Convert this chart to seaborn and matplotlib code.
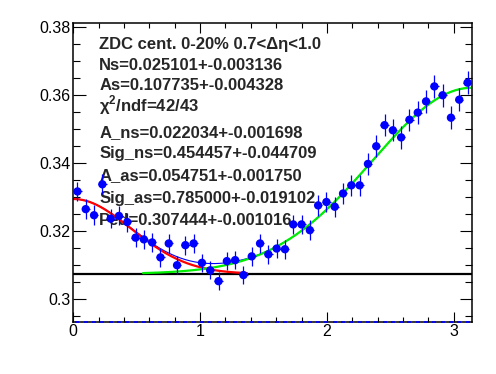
import numpy as np
import pandas as pd
import matplotlib
matplotlib.use("Agg")
import matplotlib.pyplot as plt
from matplotlib.ticker import MultipleLocator, FixedLocator
import seaborn as sns

# ---- data ----
n_bins = 48
yield_vals = [0.3317, 0.3265, 0.3247, 0.3338, 0.3237, 0.3245, 0.3227, 0.3181,
              0.3176, 0.3167, 0.3123, 0.3164, 0.3100, 0.3159, 0.3164, 0.3107,
              0.3085, 0.3053, 0.3112, 0.3115, 0.3071, 0.3126, 0.3164, 0.3132,
              0.3149, 0.3147, 0.3220, 0.3220, 0.3203, 0.3276, 0.3286, 0.3272,
              0.3311, 0.3335, 0.3335, 0.3398, 0.3450, 0.3512, 0.3497, 0.3476,
              0.3528, 0.3549, 0.3582, 0.3626, 0.3600, 0.3534, 0.3587, 0.3637]
yield_errs = [0.0029, 0.0029, 0.0029, 0.0029, 0.0028, 0.0028, 0.0028, 0.0028,
              0.0028, 0.0028, 0.0028, 0.0028, 0.0027, 0.0028, 0.0028, 0.0027,
              0.0027, 0.0027, 0.0027, 0.0027, 0.0027, 0.0028, 0.0028, 0.0028,
              0.0028, 0.0028, 0.0029, 0.0029, 0.0029, 0.0030, 0.0030, 0.0030,
              0.0030, 0.0031, 0.0031, 0.0032, 0.0033, 0.0033, 0.0033, 0.0033,
              0.0033, 0.0033, 0.0034, 0.0034, 0.0034, 0.0033, 0.0034, 0.0034]

# fit parameters (shown in the legend text)
ped = 0.307444
a_ns, sig_ns = 0.022034, 0.454457
a_as, sig_as = 0.054751, 0.785000
ns_range = (0.0, 1.37)
as_range = (0.55, np.pi)

x_ticks = [0, 1, 2, 3]
y_ticks = [0.30, 0.32, 0.34, 0.36, 0.38]
y_tick_labels = ["0.3", "0.32", "0.34", "0.36", "0.38"]

info_lines = [
    "ZDC cent. 0-20% 0.7<\u0394\u03b7<1.0",
    "Ns=0.025101+-0.003136",
    "As=0.107735+-0.004328",
    "\u03c7$^{\\mathbf{2}}$/ndf=42/43",
    "A_ns=0.022034+-0.001698",
    "Sig_ns=0.454457+-0.044709",
    "A_as=0.054751+-0.001750",
    "Sig_as=0.785000+-0.019102",
    "Ped=0.307444+-0.001016",
]
info_baselines_px = [49, 69.5, 90, 111, 137.5, 158.3, 180, 203, 225]

# ---- style ----
sns.set_style("ticks")
plt.rcParams["font.family"] = ["Liberation Sans", "DejaVu Sans"]
plt.rcParams["mathtext.fontset"] = "custom"
plt.rcParams["mathtext.rm"] = "Liberation Sans"
plt.rcParams["mathtext.bf"] = "Liberation Sans:bold"

W, H = 496, 374
fig = plt.figure(figsize=(W / 100, H / 100), dpi=100)
ax = fig.add_axes([73.3 / W, 1 - 321.7 / H, (471.7 - 73.3) / W, (321.7 - 23.3) / H])

bin_w = np.pi / n_bins
centers = (np.arange(n_bins) + 0.5) * bin_w
df = pd.DataFrame({"dphi": centers, "y": yield_vals, "err": yield_errs})

# fit curves
def ns_part(x):
    return a_ns * np.exp(-x ** 2 / (2 * sig_ns ** 2))

def as_part(x):
    return a_as * np.exp(-(x - np.pi) ** 2 / (2 * sig_as ** 2))

xs_all = np.linspace(0, np.pi, 400)
xs_ns = np.linspace(*ns_range, 300)
xs_as = np.linspace(*as_range, 300)

sns.lineplot(x=xs_all, y=ped + ns_part(xs_all) + as_part(xs_all), color="#0000ff",
             lw=0.8, ax=ax, zorder=2)
sns.lineplot(x=[0, np.pi], y=[ped, ped], color="black", lw=1.6, ax=ax, zorder=2)
sns.lineplot(x=xs_ns, y=ped + ns_part(xs_ns), color="#ff0000", lw=1.6, ax=ax, zorder=2.5)
sns.lineplot(x=xs_as, y=ped + as_part(xs_as), color="#00ee00", lw=1.6, ax=ax, zorder=2.5)

ax.errorbar(df["dphi"], df["y"], yerr=df["err"], xerr=bin_w / 2, fmt="none",
            ecolor="#0000ff", elinewidth=0.9, capsize=0, zorder=3)
sns.scatterplot(data=df, x="dphi", y="y", color="#0000ff", s=36, edgecolor="none",
                ax=ax, zorder=4)

ylo, yhi = 0.29338, 0.38117
ax.plot(df["dphi"], [ylo] * n_bins, ls="none", marker="_", ms=2.2, mew=1.2,
        color="#0000ff", clip_on=False, zorder=5)

# text block
for txt, yb in zip(info_lines, info_baselines_px):
    ax.text(99.3 / W, 1 - yb / H, txt, transform=fig.transFigure, fontsize=12,
            fontweight="bold", ha="left", va="baseline", zorder=1.5)

ax.set_xlim(0, np.pi)
ax.set_ylim(ylo, yhi)
ax.xaxis.set_major_locator(FixedLocator(x_ticks))
ax.xaxis.set_minor_locator(MultipleLocator(0.2))
ax.set_xticklabels([str(t) for t in x_ticks])
ax.yaxis.set_major_locator(FixedLocator(y_ticks))
ax.yaxis.set_minor_locator(MultipleLocator(0.005))
ax.set_yticklabels(y_tick_labels)
ax.set_xlabel("")
ax.set_ylabel("")

ax.tick_params(which="both", direction="in", top=True, right=True, width=0.8,
               labelsize=11.5, colors="black")
ax.tick_params(axis="x", which="major", length=7.2, pad=2)
ax.tick_params(axis="x", which="minor", length=3.6)
ax.tick_params(axis="y", which="major", length=9, pad=2)
ax.tick_params(axis="y", which="minor", length=4.8)
for s in ax.spines.values():
    s.set_linewidth(1.1)
    s.set_color("black")

fig.savefig("out.png", dpi=100)
